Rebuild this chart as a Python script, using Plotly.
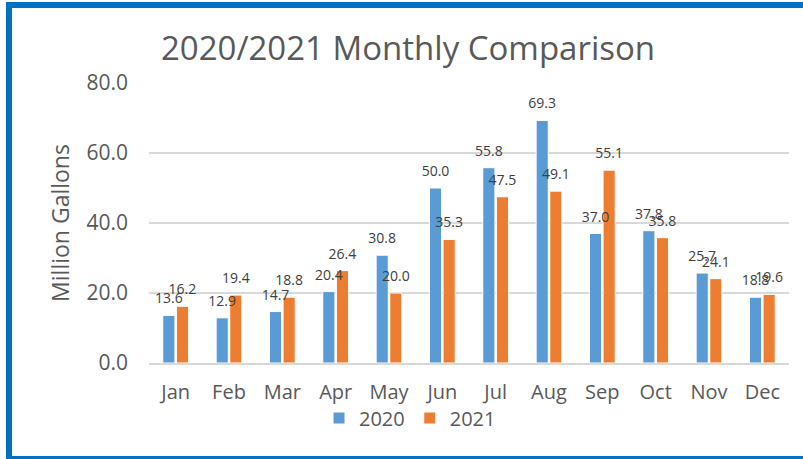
import plotly.graph_objects as go

months = ["Jan", "Feb", "Mar", "Apr", "May", "Jun", "Jul", "Aug", "Sep", "Oct", "Nov", "Dec"]
values_2020 = [13.6, 12.9, 14.7, 20.4, 30.8, 50.0, 55.8, 69.3, 37.0, 37.8, 25.7, 18.8]
values_2021 = [16.2, 19.4, 18.8, 26.4, 20.0, 35.3, 47.5, 49.1, 55.1, 35.8, 24.1, 19.6]
y_ticks = [0, 20, 40, 60, 80]

W, H = 803, 459
L, R, T, B = 149, 14, 83, 96
PW, PH = W - L - R, H - T - B

FONT = "Open Sans"
GRAY = "#595959"
BARGAP = 0.49

def px_x(px):
    return (px - L) / PW

def px_y(py):
    return (H - B - py) / PH

series = [("2020", values_2020, "#5B9BD5", "g1"), ("2021", values_2021, "#ED7D31", "g2")]

fig = go.Figure()
for name, vals, color, grp in series:
    fig.add_trace(go.Bar(
        x=months, y=vals, name=name, offsetgroup=grp,
        marker=dict(color=color, line=dict(color="white", width=1)),
    ))
for name, vals, color, grp in series:
    fig.add_trace(go.Scatter(
        x=months, y=vals, offsetgroup=grp, mode="markers+text",
        marker=dict(size=12, opacity=0),
        text=[f"{v:.1f}" for v in vals], textposition="top center",
        textfont=dict(family=FONT, size=14, color="#404040"),
        showlegend=False, hoverinfo="skip", cliponaxis=False,
    ))

fig.update_layout(
    width=W, height=H,
    margin=dict(l=L, r=R, t=T, b=B, autoexpand=False),
    paper_bgcolor="white", plot_bgcolor="white",
    barmode="group", bargap=BARGAP, bargroupgap=0.11,
    scattermode="group", scattergap=BARGAP,
    font=dict(family=FONT, color=GRAY),
    title=dict(text="2020/2021 Monthly Comparison", x=408 / W, xanchor="center",
               y=1 - 48 / H, yanchor="middle", yref="container",
               font=dict(family=FONT, size=33, color=GRAY)),
    showlegend=True,
    legend=dict(orientation="h", x=px_x(410), xanchor="center", y=px_y(418), yanchor="middle",
                font=dict(family=FONT, size=20, color=GRAY), itemwidth=30,
                traceorder="normal", bgcolor="rgba(0,0,0,0)"),
    shapes=[dict(type="rect", xref="paper", yref="paper",
                 x0=px_x(9), x1=px_x(830), y0=px_y(5), y1=px_y(459),
                 line=dict(color="#0070C0", width=6), layer="above")],
)
fig.update_xaxes(showgrid=False, showline=True, linecolor="#D9D9D9", linewidth=1.5,
                 tickfont=dict(family=FONT, size=20, color=GRAY), ticks="",
                 ticklabelstandoff=10)
fig.update_yaxes(range=[0, 80], tickvals=y_ticks, ticktext=[f"{v:.1f}" for v in y_ticks],
                 showgrid=True, gridcolor="#D9D9D9", gridwidth=1.5, zeroline=False,
                 tickfont=dict(family=FONT, size=21, color=GRAY), ticks="",
                 ticklabelstandoff=20,
                 title=dict(text="Million Gallons", standoff=10,
                            font=dict(family=FONT, size=23, color=GRAY)))

fig.write_html("out.html", config={"displayModeBar": False},
               post_script="document.body.style.margin='0px';")
